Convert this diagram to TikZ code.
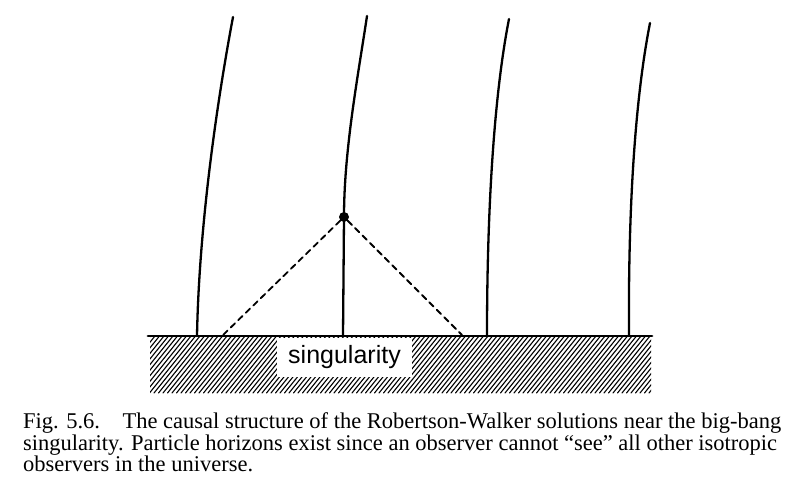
\documentclass[tikz,border=0pt]{standalone}
\usepackage{fontspec}
\setmainfont{Liberation Serif}
\setsansfont{Liberation Sans}
\usepackage{tikz}
\usetikzlibrary{positioning,calc}
\tikzset{
  spacetimepic/.style={
    x=1pt,y=1pt
    ,line cap=round
  }
  ,worldline/.style={line width=2.3pt}
  ,horizon/.style={line width=1.8pt,dash pattern=on 6pt off 4.5pt}
  ,bigbang/.style={line width=2.8pt}
  ,hatchline/.style={line width=1.1pt}
  ,event/.style={circle,fill=black,inner sep=0pt,minimum size=10pt}
  ,singlabel/.style={
    fill=white
    ,inner sep=0pt
    ,minimum width=135pt
    ,minimum height=39pt
    ,font={\sffamily\fontsize{25}{25}\selectfont}
  }
  ,figcaption/.style={
    align=left
    ,inner sep=0pt
    ,font={\fontsize{22.5}{21.5}\selectfont}
  }
}

\begin{document}
\begin{tikzpicture}[spacetimepic]
  \useasboundingbox (0,0) rectangle (800,496);
  % singularity, hatched
  \begin{scope}
    \clip (150,103) rectangle (651,160);
    \foreach \i in {0,...,125}{
      \draw[hatchline] ({100+4.5*\i},103) -- ++(46,57);
    }
  \end{scope}
  \node[singlabel] (sing) at (344.5,138.5) {singularity};
  \coordinate (bbl) at (148,160);
  \coordinate (bbr) at (652,160);
  \draw[bigbang] (bbl) -- (bbr);
  % observers
  \coordinate (b1) at (197,160);
  \coordinate (b2) at (343,160);
  \coordinate (b3) at (487,160);
  \coordinate (b4) at (629,160);
  \coordinate (t1) at (233,479);
  \coordinate (t2) at (367,480);
  \coordinate (t3) at (509,477);
  \coordinate (t4) at (650,473);
  \node[event] (obs) at (344,279) {};
  \draw[worldline] (b1) .. controls +(2,110) and +(-16,-85) .. (t1);
  \draw[worldline] (b2) -- (obs.center);
  \draw[worldline] (obs.center) .. controls +(0,67) and +(-9,-60) .. (t2);
  \draw[worldline] (b3) .. controls +(0,136) and +(-14,-71) .. (t3);
  \draw[worldline] (b4) .. controls +(-1,136) and +(-14,-71) .. (t4);
  % particle horizon
  \coordinate (hl) at (222,160);
  \coordinate (hr) at (462,161);
  \draw[horizon] (obs) -- (hl);
  \draw[horizon] (obs) -- (hr);
  % caption
  \node[figcaption,anchor=north west] (cap) at (23,83.5)
    {Fig. 5.6.\hspace{1em}The causal structure of the Robertson-Walker solutions near the big-bang\\
     singularity. Particle horizons exist since an observer cannot “see” all other isotropic\\
     observers in the universe.};
\end{tikzpicture}
\end{document}
